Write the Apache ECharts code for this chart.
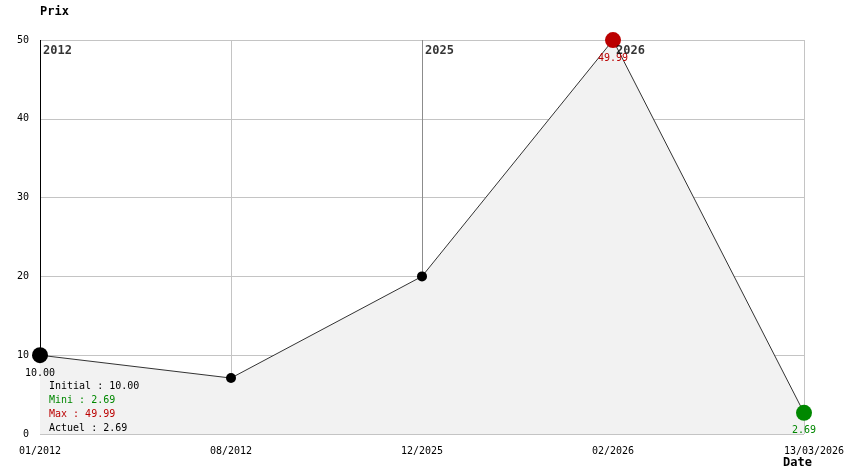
<!DOCTYPE html>
<html>
<head>
<meta charset="utf-8">
<script src="https://cdn.jsdelivr.net/npm/echarts@6/dist/echarts.min.js"></script>
<style>
  html, body { margin: 0; padding: 0; background: #fff; }
  #chart { width: 844px; height: 474px; }
</style>
</head>
<body>
<div id="chart"></div>
<script>
const dates = ["01/2012", "08/2012", "12/2025", "02/2026", "13/03/2026"];
const prices = [10, 7.1, 20, 49.99, 2.69];
const yearDates = ["01/2012", "12/2025", "02/2026"];
const yearLabels = ["2012", "2025", "2026"];
const summaryLines = ["Initial : 10.00", "Mini : 2.69", "Max : 49.99", "Actuel : 2.69"];

const FONT = "DejaVu Sans Mono";
const RED = "#bb0000";
const GREEN = "#008800";

const pointStyle = [
  { size: 16, color: "#000", label: true },
  { size: 10, color: "#000", label: false },
  { size: 10, color: "#000", label: false },
  { size: 16, color: RED, label: true },
  { size: 16, color: GREEN, label: true },
];

const plain = (color) => ({ fontFamily: FONT, fontSize: 10, fontWeight: "normal", color, lineHeight: 14 });

const chart = echarts.init(document.getElementById("chart"));
chart.setOption({
  animation: false,
  textStyle: { fontFamily: FONT },
  grid: { left: 40, right: 40, top: 40, bottom: 40, outerBoundsMode: "none" },
  title: [
    {
      left: 49,
      top: 379,
      padding: 0,
      itemGap: 0,
      text: [
        "{a|" + summaryLines[0] + "}",
        "{b|" + summaryLines[1] + "}",
        "{c|" + summaryLines[2] + "}",
        "{a|" + summaryLines[3] + "}",
      ].join("\n"),
      textStyle: {
        fontWeight: "normal",
        rich: { a: plain("#000"), b: plain(GREEN), c: plain(RED) },
      },
    },
    {
      text: "Date",
      left: 783,
      top: 457,
      padding: 0,
      textStyle: { fontFamily: FONT, fontSize: 12, fontWeight: "bold", color: "#000" },
    },
  ],
  xAxis: {
    type: "category",
    boundaryGap: false,
    data: dates,
    axisLine: { show: false },
    axisTick: { show: false },
    axisLabel: {
      color: "#000",
      fontFamily: FONT,
      fontSize: 10,
      margin: 12,
      formatter: (v, i) => (i === dates.length - 1 ? "{last|" + v + "}" : v),
      rich: { last: { fontFamily: FONT, fontSize: 10, color: "#000", padding: [0, 0, 0, 20] } },
    },
    splitLine: {
      show: true,
      lineStyle: { color: ["#000", "#c4c4c4", "#8c8c8c", "#8c8c8c", "#c4c4c4"], width: 1 },
    },
  },
  yAxis: {
    type: "value",
    min: 0,
    max: 50,
    interval: 10,
    name: "Prix",
    nameGap: 22,
    nameTextStyle: { fontFamily: FONT, fontSize: 12, fontWeight: "bold", color: "#000", align: "left" },
    axisLine: { show: false },
    axisTick: { show: false },
    axisLabel: { color: "#000", fontFamily: FONT, fontSize: 10, margin: 11 },
    splitLine: { lineStyle: { color: "#c4c4c4", width: 1 } },
  },
  series: [
    {
      type: "line",
      z: 3,
      data: prices.map((v, i) => ({
        value: v,
        symbolSize: pointStyle[i].size,
        itemStyle: { color: pointStyle[i].color },
        label: {
          show: pointStyle[i].label,
          position: "bottom",
          distance: 5,
          color: pointStyle[i].color,
          fontFamily: FONT,
          fontSize: 10,
          formatter: (p) => p.value.toFixed(2),
        },
      })),
      symbol: "circle",
      showAllSymbol: true,
      lineStyle: { color: "#333", width: 1 },
      areaStyle: { color: "#f2f2f2", opacity: 1, origin: "start" },
    },
    {
      type: "scatter",
      z: 4,
      symbolSize: 0,
      silent: true,
      data: yearDates.map((d, i) => ({ value: [d, 50], name: yearLabels[i] })),
      label: {
        show: true,
        position: "right",
        distance: 3,
        offset: [0, 11],
        formatter: (p) => p.name,
        fontFamily: FONT,
        fontSize: 12,
        fontWeight: "bold",
        color: "#000",
      },
    },
  ],
});
</script>
</body>
</html>
